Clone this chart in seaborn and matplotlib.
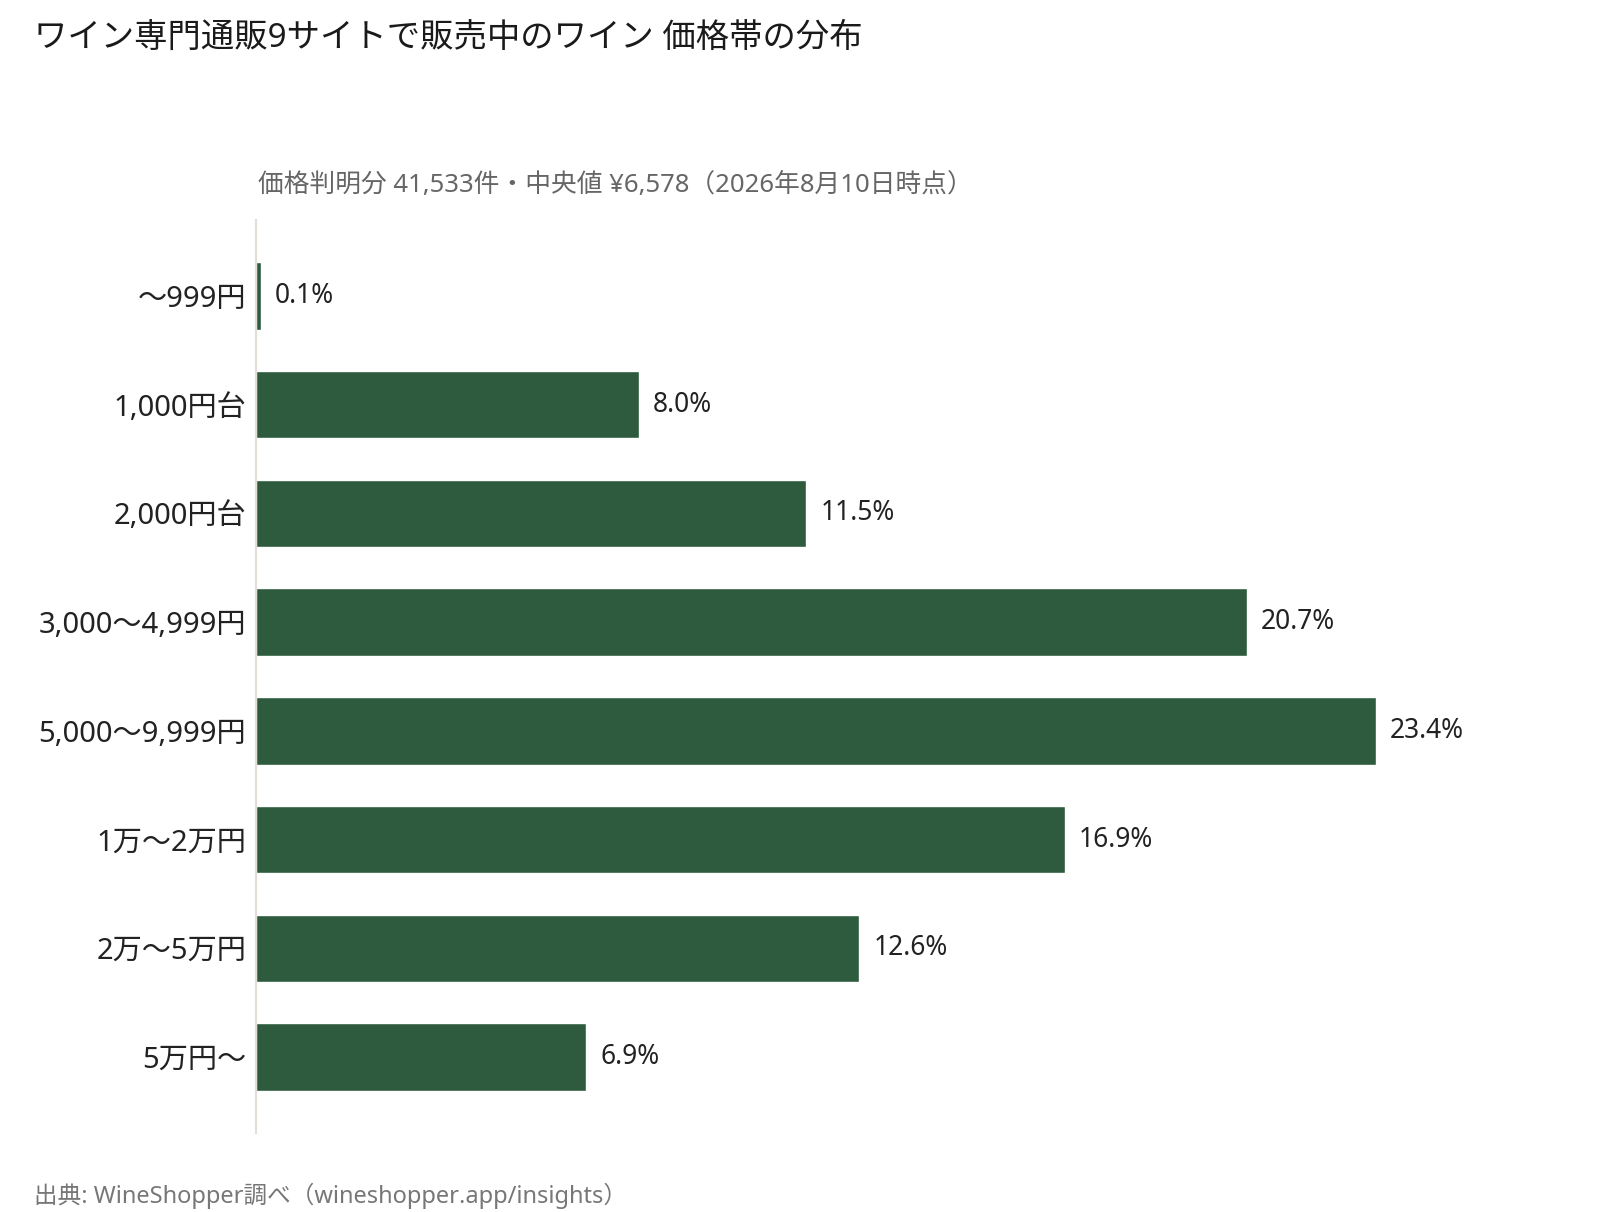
import matplotlib
matplotlib.use("Agg")
import matplotlib.pyplot as plt
import seaborn as sns
import pandas as pd

# Data
categories = ["〜999円", "1,000円台", "2,000円台", "3,000〜4,999円",
              "5,000〜9,999円", "1万〜2万円", "2万〜5万円", "5万円〜"]
shares = [0.1, 8.0, 11.5, 20.7, 23.4, 16.9, 12.6, 6.9]

TITLE = "ワイン専門通販9サイトで販売中のワイン 価格帯の分布"
SUBTITLE = "価格判明分 41,533件・中央値 ¥6,578（2026年8月10日時点）"
SOURCE = "出典: WineShopper調べ（wineshopper.app/insights）"

BAR_COLOR = "#2e5b3e"
W, H = 1600, 1212

sns.set_theme(style="white")
plt.rcParams['font.family'] = ['Noto Sans', 'Noto Sans CJK JP', 'DejaVu Sans']

df = pd.DataFrame({"category": categories, "share": shares})

fig = plt.figure(figsize=(W / 100, H / 100), dpi=100)
# axes box in pixels: left 256, top 220, bottom 1133, right 1596
ax = fig.add_axes([256 / W, 1 - 1133 / H, 1340 / W, 913 / H])

sns.barplot(data=df, x="share", y="category", orient="h", color=BAR_COLOR,
            saturation=1, width=0.62, ax=ax)

ax.set_xlim(0, 28.0)
ax.set_ylim(7.7, -0.7)

for i, v in enumerate(shares):
    ax.text(v + 0.3, i, f"{v:.1f}%", va="center", ha="left",
            fontsize=19, color="#222222")

ax.set_xlabel("")
ax.set_ylabel("")
ax.set_xticks([])
ax.tick_params(axis="y", length=0, pad=7, labelsize=21, labelcolor="#222222")
for side in ["top", "right", "bottom"]:
    ax.spines[side].set_visible(False)
ax.spines["left"].set_color("#e2ddd6")
ax.spines["left"].set_linewidth(1.5)

fig.text(34 / W, 1 - 38 / H, TITLE, fontsize=24, color="#1a1a1a",
         ha="left", va="center")
fig.text(258 / W, 1 - 185 / H, SUBTITLE, fontsize=18.5, color="#666666",
         ha="left", va="center")
fig.text(34 / W, 1 - 1196 / H, SOURCE, fontsize=17, color="#777777",
         ha="left", va="center")

fig.savefig("out.png", dpi=100, facecolor="white")
